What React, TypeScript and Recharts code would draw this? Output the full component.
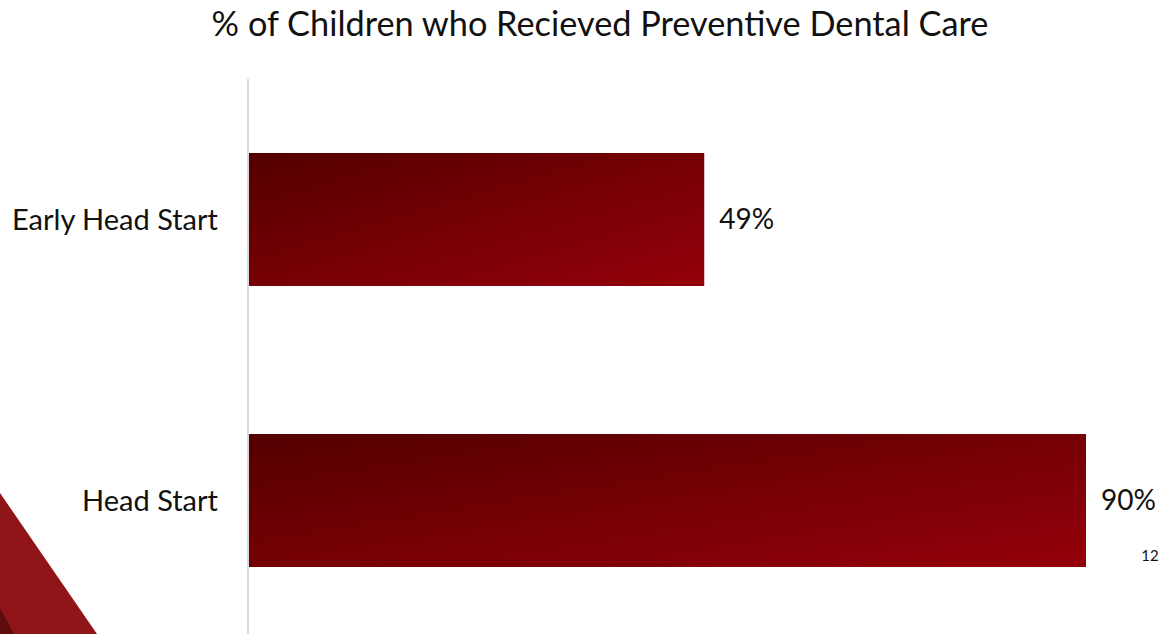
import React from 'react';
import { BarChart, Bar, XAxis, YAxis, LabelList } from 'recharts';

const programs = ['Early Head Start', 'Head Start'];
const preventiveCare = [49, 90];

const chartData = programs.map((name, i) => ({ name, value: preventiveCare[i] }));

const FONT = 'Lato, "Open Sans", sans-serif';

const DentalCareChart: React.FC = () => {
  return (
    <div style={{ position: 'fixed', left: 0, top: 0, width: 1171, height: 634, overflow: 'hidden', background: '#fff' }}>
      <svg width={1171} height={634} style={{ position: 'absolute', left: 0, top: 0 }}>
        {/* slide corner ribbon */}
        <polygon points="0,493 97,634 0,634" fill="#8f1518" />
        <polygon points="0,608 14,634 0,634" fill="#5e0b0d" />
        <text x={600} y={36} textAnchor="middle" fontFamily={FONT} fontSize={34.3} fill="#111">
          % of Children who Recieved Preventive Dental Care
        </text>
        <text x={1150} y={561} textAnchor="middle" fontFamily={FONT} fontSize={15} fill="#111">
          12
        </text>
      </svg>
      <div style={{ position: 'absolute', left: 0, top: 0 }}>
        <BarChart
          layout="vertical"
          width={1171}
          height={660}
          data={chartData}
          margin={{ top: 79, right: 85, bottom: 19, left: 0 }}
        >
          <defs>
            <linearGradient id="barFill" x1="0" y1="0" x2="1" y2="1">
              <stop offset="0%" stopColor="#540000" />
              <stop offset="100%" stopColor="#95000a" />
            </linearGradient>
          </defs>
          <XAxis type="number" domain={[0, 90]} hide />
          <YAxis
            type="category"
            dataKey="name"
            width={248}
            tickLine={false}
            tickSize={0}
            tickMargin={30}
            axisLine={{ stroke: '#d9d9d9', strokeWidth: 2 }}
            tick={{ fontFamily: FONT, fontSize: 29, fill: '#111' }}
          />
          <Bar dataKey="value" fill="url(#barFill)" barSize={133} isAnimationActive={false}>
            <LabelList
              dataKey="value"
              position="right"
              offset={15}
              formatter={(v: number) => `${v}%`}
              style={{ fontFamily: FONT, fontSize: 28, fill: '#111' }}
            />
          </Bar>
        </BarChart>
      </div>
    </div>
  );
};

export default DentalCareChart;
